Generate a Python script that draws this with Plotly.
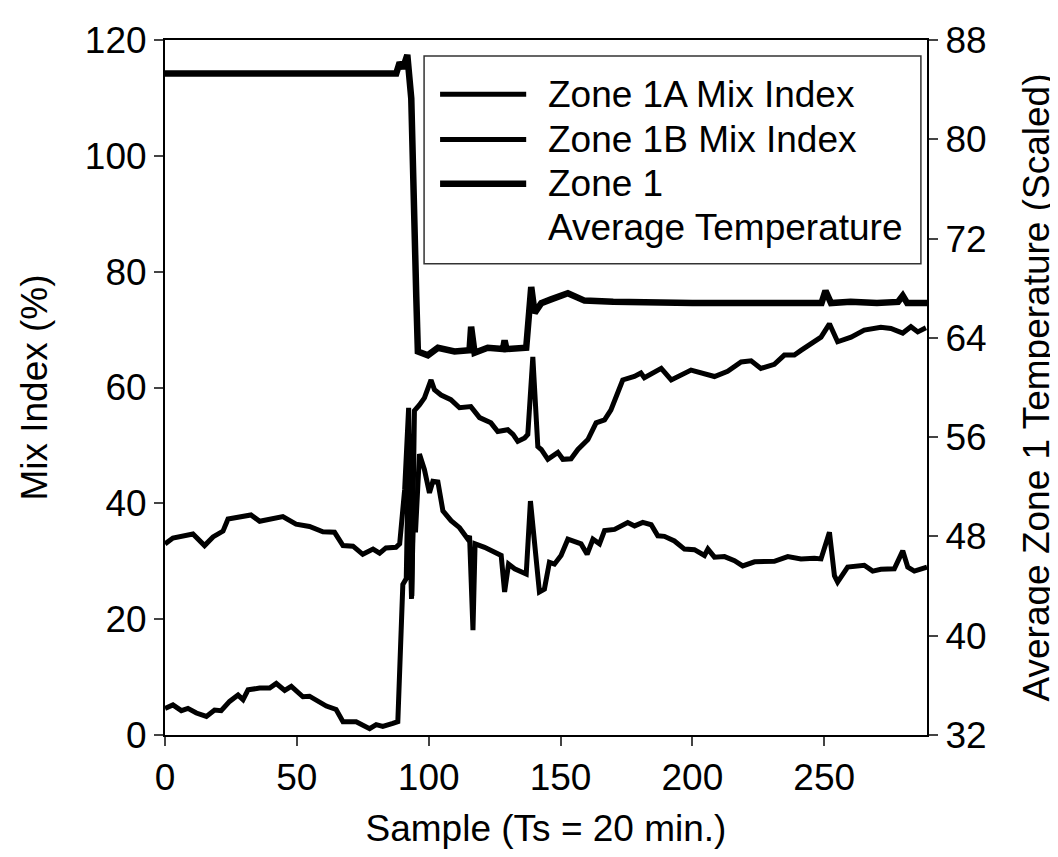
import plotly.graph_objects as go

# Zone 1A mix index (%)
sample_a = [0, 3, 10.6, 15, 18.2, 22, 23.9, 29.6, 32.6, 35.9, 44.7, 49.7, 54.8, 59.9, 64.3, 67.5,
            71.3, 75, 78.9, 81.4, 83.8, 87.6, 89, 90.9, 92.4, 93.6, 94.6, 96.5, 98.4, 100.9, 102.2,
            104.7, 108.4, 111.7, 116, 119.3, 123.6, 126.2, 130, 132, 133.8, 136.4, 137.6, 139.5,
            141.4, 142.7, 145.2, 149, 150.9, 154, 156.6, 160.4, 163.5, 166.7, 169.1, 171.7, 173.6,
            178, 180.5, 181.8, 188.2, 192, 199.5, 208.4, 213.4, 218.5, 222.3, 226, 231.1, 234.9,
            238.7, 241.2, 245, 248.8, 252, 255.1, 260.2, 265.2, 271.5, 275.3, 279.8, 282.9, 285.5, 288.6]
mix_a = [33.0, 34.0, 34.7, 32.7, 34.2, 35.2, 37.3, 37.9, 38.0, 36.9, 37.7, 36.4, 36.0, 35.1, 35.0, 32.7,
         32.6, 31.2, 32.1, 31.4, 32.3, 32.4, 33.0, 42.4, 56.5, 24.0, 56.0, 57.0, 58.2, 61.3, 59.6,
         58.7, 57.9, 56.5, 56.7, 54.8, 53.9, 52.4, 52.7, 51.9, 50.7, 51.3, 51.9, 65.3,
         49.8, 49.3, 47.6, 48.8, 47.6, 47.7, 49.3, 51.0, 53.9, 54.4, 56.1, 59.1, 61.3,
         61.9, 62.5, 61.7, 63.3, 61.3, 63.0, 61.9, 62.8, 64.4, 64.6, 63.3, 64.0, 65.6,
         65.6, 66.4, 67.6, 68.7, 71.0, 67.9, 68.7, 69.9, 70.4, 70.2, 69.4, 70.5, 69.6, 70.3]

# Zone 1B mix index (%)
sample_b = [0, 3, 6.2, 8.7, 11.9, 15.7, 18.8, 21.3, 24.5, 27.7, 29.6, 31.5, 35.9, 39.7, 42.2, 45.4,
            47.9, 52.3, 54.8, 58.6, 61.2, 64.9, 67.5, 72.5, 75, 77.6, 80.1, 82.6, 86.4, 88.3, 90.2,
            91.5, 92.2, 92.8, 93.5, 94.3, 95, 96.5, 98.4, 100.3, 101.6, 103.5, 105.4, 108.5, 111.7,
            114.9, 115.5, 116.8, 117.6, 121.2, 125, 127.5, 128.8, 130.3, 132.6, 134.5, 137, 138.6,
            140.2, 142, 143.9, 145.8, 147.7, 150.2, 152.8, 157.8, 160.1, 162.3, 164.8, 166.7, 170.5,
            175.5, 178.1, 181.2, 184.4, 186.9, 189.4, 193.2, 197, 200.8, 204.6, 205.9, 208.4, 212.2,
            216, 219.1, 223.6, 231.1, 236.2, 241.2, 246.3, 248.8, 252, 253.9, 255.1, 258.9, 265.2,
            268.4, 271.5, 276.6, 279.8, 281.7, 284.2, 289]
mix_b = [4.6, 5.2, 4.2, 4.6, 3.8, 3.2, 4.3, 4.2, 5.8, 6.9, 6.1, 7.8, 8.1, 8.1, 8.9, 7.7,
         8.4, 6.6, 6.7, 5.8, 5.0, 4.4, 2.3, 2.3, 1.7, 1.1, 1.8, 1.5, 2.0, 2.3, 26.0,
         27.0, 45.0, 30.0, 23.5, 40.0, 35.0, 48.5, 45.8, 41.8, 43.8, 43.7, 38.7, 37.0, 35.8,
         33.8, 34.4, 18.1, 33.0, 32.4, 31.5, 31.0, 24.7, 29.5, 28.7, 28.3, 27.8, 40.4,
         33.0, 24.7, 25.2, 29.8, 29.5, 31.0, 33.8, 33.0, 31.2, 33.8, 33.0, 35.3, 35.5,
         36.7, 36.1, 36.7, 36.3, 34.4, 34.3, 33.5, 32.1, 32.0, 31.0, 32.1, 30.7, 30.8,
         30.1, 29.2, 29.9, 30.0, 30.8, 30.4, 30.5, 30.4, 35.0, 27.5, 26.4, 29.0, 29.3,
         28.3, 28.6, 28.7, 31.8, 29.0, 28.3, 29.0]

# Zone 1 average temperature (scaled)
sample_t = [0, 10, 20, 30, 40, 50, 60, 70, 80, 87.7, 89, 90.2, 91.9, 93.4, 95.3, 95.9, 99.7,
            103.5, 109.8, 115.5, 116.1, 117.4, 122.4, 128.2, 128.8, 129.5, 137, 138.9, 140.2,
            142.7, 146.4, 152.8, 159.1, 170, 200, 230, 249, 250.5, 252.6, 260, 270, 278, 279.8,
            281.5, 289]
temp_t = [85.3, 85.3, 85.2, 85.3, 85.25, 85.3, 85.2, 85.3, 85.3, 85.3, 86.2, 85.7, 86.8, 83.3,
          67.3, 62.9, 62.6, 63.2, 62.9, 63.0, 64.9, 62.8, 63.2, 63.1, 63.8, 63.1, 63.2, 68.1,
          66.0, 66.8, 67.1, 67.6, 67.0, 66.9, 66.8, 66.8, 66.8, 67.8, 66.8, 66.9, 66.8, 66.9,
          67.4, 66.8, 66.8]

legend_names = ["Zone 1A Mix Index", "Zone 1B Mix Index", "Zone 1", "Average Temperature"]
x_ticks = [0, 50, 100, 150, 200, 250]
left_ticks = [0, 20, 40, 60, 80, 100, 120]
right_ticks = [32, 40, 48, 56, 64, 72, 80, 88]

FONT = "Liberation Sans, Arial, sans-serif"
FS = 37

fig = go.Figure()
fig.add_trace(go.Scatter(x=sample_a, y=mix_a, mode="lines", name=legend_names[0],
                         line=dict(color="black", width=5)))
fig.add_trace(go.Scatter(x=sample_b, y=mix_b, mode="lines", name=legend_names[1],
                         line=dict(color="black", width=5)))
fig.add_trace(go.Scatter(x=sample_t, y=temp_t, mode="lines", name="Zone 1 Average Temperature",
                         line=dict(color="black", width=6.5), yaxis="y2"))

# legend box drawn manually to mimic the long line samples
shapes = [dict(type="rect", xref="paper", yref="paper", x0=0.340, x1=0.992, y0=0.678, y1=0.977,
               line=dict(color="#333", width=1.5), fillcolor="white", layer="above")]
line_y = [0.922, 0.857, 0.793]
line_w = [5, 5, 6.5]
for yy, ww in zip(line_y, line_w):
    shapes.append(dict(type="line", xref="paper", yref="paper", x0=0.361, x1=0.474, y0=yy, y1=yy,
                       line=dict(color="black", width=ww), layer="above"))
text_y = [0.922, 0.857, 0.793, 0.730]
annotations = [dict(xref="paper", yref="paper", x=0.500, y=ty, text=t, showarrow=False,
                    xanchor="left", yanchor="middle", font=dict(family=FONT, size=FS, color="black"))
               for t, ty in zip(legend_names, text_y)]

fig.update_layout(
    width=1058, height=857,
    margin=dict(l=157, r=139, t=28, b=130),
    paper_bgcolor="white", plot_bgcolor="white",
    showlegend=False,
    font=dict(family=FONT, size=FS, color="black"),
    shapes=shapes, annotations=annotations,
    xaxis=dict(range=[0, 289], tickvals=x_ticks, ticks="outside", ticklen=9, tickwidth=2,
               showline=True, linecolor="black", linewidth=2, mirror=True, showgrid=False,
               zeroline=False, tickfont=dict(size=FS),
               title=dict(text="Sample (Ts = 20 min.)", standoff=18, font=dict(size=FS))),
    yaxis=dict(range=[0, 120], tickvals=left_ticks, ticks="outside", ticklen=9, tickwidth=2,
               showline=True, linecolor="black", linewidth=2, showgrid=False, zeroline=False,
               tickfont=dict(size=FS),
               title=dict(text="Mix Index (%)", standoff=26, font=dict(size=FS))),
    yaxis2=dict(range=[32, 88], tickvals=right_ticks, ticks="outside", ticklen=9, tickwidth=2,
                overlaying="y", side="right", showline=True, linecolor="black", linewidth=2,
                showgrid=False, zeroline=False, tickfont=dict(size=FS),
                title=dict(text="Average Zone 1 Temperature (Scaled)", standoff=38,
                           font=dict(size=FS))),
)

fig.write_html("out.html")
